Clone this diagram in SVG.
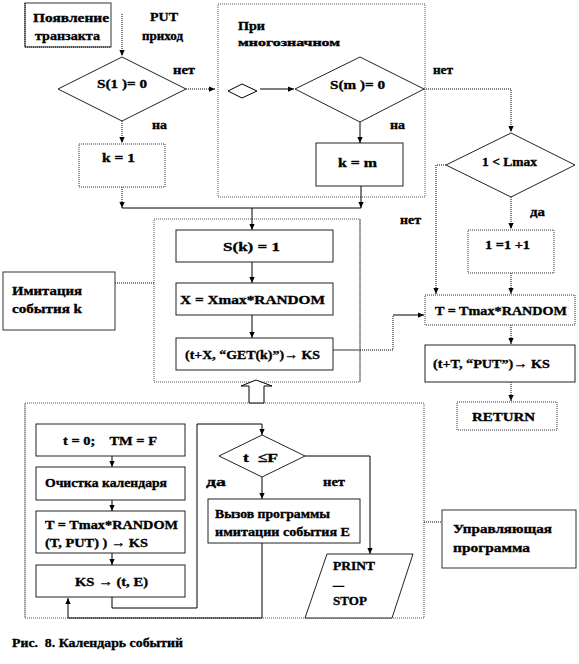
<svg xmlns="http://www.w3.org/2000/svg" width="579" height="664" viewBox="0 0 579 664" font-family="'Liberation Serif', 'Times New Roman', 'DejaVu Serif', serif">
<defs>
<marker id="ah" viewBox="0 0 8 8" refX="8" refY="4" markerWidth="6" markerHeight="6" orient="auto" markerUnits="userSpaceOnUse">
<path d="M0,0.5 L8,4 L0,7.5 Z" fill="#000"/>
</marker>
<style>
text{font-family:'Liberation Serif','Times New Roman','DejaVu Serif',serif;font-weight:bold;font-size:13.5px;fill:#000;stroke:#000;stroke-width:0.35px}
.sm{font-size:10px}
.box{fill:#fff;stroke:#222;stroke-width:1}
.dbox{fill:#fff;stroke:#333;stroke-width:1;stroke-dasharray:1 1}
.cont{fill:none;stroke:#555;stroke-width:1;stroke-dasharray:1 1}
.ln{fill:none;stroke:#000;stroke-width:1}
.dl{fill:none;stroke:#000;stroke-width:1;stroke-dasharray:1 1}
.gl{fill:none;stroke:#777;stroke-width:1.5}
</style>
</defs>
<rect width="579" height="664" fill="#fff"/>

<g id="containers">
<rect class="cont" x="218" y="4" width="207" height="193"/>
<rect class="cont" x="154" y="219" width="206" height="163"/>
<line x1="360" y1="219" x2="360" y2="382" stroke="#777" stroke-width="1"/>
<rect class="cont" x="25" y="403" width="399" height="215"/>
<line x1="25" y1="403" x2="25" y2="618" stroke="#999" stroke-width="1"/>
</g>

<g id="connectors">
<path class="dl" d="M122,14 V56" marker-end="url(#ah)"/>
<path class="dl" d="M186,89 H215" marker-end="url(#ah)"/>
<path class="ln" d="M260,89 H294" marker-end="url(#ah)"/>
<path class="dl" d="M122,121 V143" marker-end="url(#ah)"/>
<path class="dl" d="M122,187 V208" marker-end="url(#ah)"/>
<path class="ln" d="M122,208 H361"/>
<path class="ln" d="M360,122 V143" marker-end="url(#ah)"/>
<path class="ln" d="M361,186 V208" marker-end="url(#ah)"/>
<path class="ln" d="M252,208 V230" marker-end="url(#ah)"/>
<path class="ln" d="M252,262 V283" marker-end="url(#ah)"/>
<path class="ln" d="M252,315 V338" marker-end="url(#ah)"/>
<path class="dl" d="M424,89 H511 V132" marker-end="url(#ah)"/>
<path class="dl" d="M511,197 V229" marker-end="url(#ah)"/>
<path class="dl" d="M511,273 V294" marker-end="url(#ah)"/>
<path class="dl" d="M446,165 H436 V294" marker-end="url(#ah)"/>
<path class="gl" d="M333,350 H360"/>
<path class="dl" d="M360,350 H393 V315"/>
<path class="ln" d="M393,315 H424" marker-end="url(#ah)"/>
<path class="dl" d="M511,325 V344" marker-end="url(#ah)"/>
<path class="dl" d="M511,382 V401" marker-end="url(#ah)"/>
<path class="dl" d="M115,283 H154"/>
<path class="dl" d="M424,522 H442"/>
<path class="ln" d="M112,456 V467" marker-end="url(#ah)"/>
<path class="ln" d="M112,500 V511" marker-end="url(#ah)"/>
<path class="ln" d="M112,553 V565" marker-end="url(#ah)"/>
<path class="ln" d="M112,597 V608 H197 V424 H262 V435" marker-end="url(#ah)"/>
<path class="ln" d="M262,477 V499" marker-end="url(#ah)"/>
<path class="ln" d="M305,456 H370 V554" marker-end="url(#ah)"/>
<path class="ln" d="M262,543 V618 H68 V598" marker-end="url(#ah)"/>
<polygon points="249,403 249,386 241,386 256,380 272,386 264,386 264,403" fill="#fff" stroke="#000" stroke-width="1"/>
</g>

<g id="n-appear">
<rect x="25" y="3" width="86" height="44" fill="#fff" stroke="#333"/>
<path class="dl" d="M25,3 V47 H111"/>
<text x="33" y="22" textLength="76" lengthAdjust="spacingAndGlyphs">Появление</text>
<text x="35" y="40" textLength="65" lengthAdjust="spacingAndGlyphs">транзакта</text>
</g>
<g id="n-put">
<text x="150" y="21" textLength="28" lengthAdjust="spacingAndGlyphs">PUT</text>
<text x="142" y="40" textLength="41" lengthAdjust="spacingAndGlyphs">приход</text>
</g>
<g id="n-s1">
<polygon class="box" points="58,89 122,57 186,89 122,121"/>
<text x="97" y="88" textLength="50" lengthAdjust="spacingAndGlyphs">S(1 )= 0</text>
<text x="173" y="74" textLength="22" lengthAdjust="spacingAndGlyphs">нет</text>
<text x="152" y="129" textLength="15" lengthAdjust="spacingAndGlyphs">на</text>
</g>
<g id="n-k1">
<rect class="dbox" x="79" y="144" width="86" height="43"/>
<text x="102" y="162" textLength="33" lengthAdjust="spacingAndGlyphs">k = 1</text>
</g>
<g id="n-multi">
<text x="238" y="30" textLength="27" lengthAdjust="spacingAndGlyphs">При</text>
<text class="sm" x="238" y="46" textLength="102" lengthAdjust="spacingAndGlyphs">многозначном</text>
<polygon points="228,91 242,84 257,91 242,98" fill="#fff" stroke="#000"/>
</g>
<g id="n-sm">
<polygon class="box" points="295,89 360,57 424,89 360,122"/>
<text x="330" y="89" textLength="55" lengthAdjust="spacingAndGlyphs">S(m )= 0</text>
<text x="390" y="129" textLength="15" lengthAdjust="spacingAndGlyphs">на</text>
<text x="433" y="74" textLength="20" lengthAdjust="spacingAndGlyphs">нет</text>
</g>
<g id="n-km">
<rect class="box" x="316" y="143" width="87" height="43"/>
<text x="338" y="167" textLength="39" lengthAdjust="spacingAndGlyphs">k = m</text>
</g>
<g id="n-lmax">
<polygon class="box" points="446,165 511,133 575,165 511,197"/>
<text x="482" y="166" textLength="55" lengthAdjust="spacingAndGlyphs">1 &lt; Lmax</text>
<text x="530" y="216" textLength="15" lengthAdjust="spacingAndGlyphs">да</text>
<text x="400" y="224" textLength="21" lengthAdjust="spacingAndGlyphs">нет</text>
</g>
<g id="n-l1">
<rect class="dbox" x="468" y="230" width="86" height="43"/>
<text x="485" y="249" textLength="45" lengthAdjust="spacingAndGlyphs">1 =1 +1</text>
</g>
<g id="n-tmax">
<rect class="dbox" x="425" y="295" width="150" height="30"/>
<text x="435" y="315" textLength="132" lengthAdjust="spacingAndGlyphs">T = Tmax*RANDOM</text>
</g>
<g id="n-putks">
<rect class="box" x="425" y="345" width="150" height="37"/>
<text x="433" y="368" textLength="117" lengthAdjust="spacingAndGlyphs">(t+T, “PUT”)→ KS</text>
</g>
<g id="n-return">
<rect class="dbox" x="457" y="402" width="100" height="28"/>
<text x="472" y="421" textLength="63" lengthAdjust="spacingAndGlyphs">RETURN</text>
</g>
<g id="n-imit-label">
<rect x="3" y="272" width="112" height="58" fill="#fff" stroke="#333"/>
<text x="12" y="295" textLength="70" lengthAdjust="spacingAndGlyphs">Имитация</text>
<text x="12" y="313" textLength="70" lengthAdjust="spacingAndGlyphs">события k</text>
</g>
<g id="n-sk">
<rect class="box" x="176" y="230" width="157" height="32"/>
<text x="223" y="251" textLength="57" lengthAdjust="spacingAndGlyphs">S(k) = 1</text>
</g>
<g id="n-x">
<rect class="box" x="176" y="283" width="157" height="32"/>
<text x="180" y="304" textLength="145" lengthAdjust="spacingAndGlyphs">X = Xmax*RANDOM</text>
</g>
<g id="n-get">
<rect class="box" x="176" y="338" width="157" height="32"/>
<text x="185" y="359" textLength="135" lengthAdjust="spacingAndGlyphs">(t+X, “GET(k)”)→ KS</text>
</g>
<g id="n-t0">
<rect class="box" x="36" y="424" width="149" height="32"/>
<text x="63" y="445" textLength="94" lengthAdjust="spacingAndGlyphs" xml:space="preserve">t = 0;    TM = F</text>
</g>
<g id="n-clear">
<rect class="box" x="36" y="467" width="149" height="33"/>
<text x="45" y="487" textLength="122" lengthAdjust="spacingAndGlyphs">Очистка календаря</text>
</g>
<g id="n-tput">
<rect class="box" x="36" y="511" width="149" height="42"/>
<text x="45" y="529" textLength="133" lengthAdjust="spacingAndGlyphs">T = Tmax*RANDOM</text>
<text x="45" y="547" textLength="103" lengthAdjust="spacingAndGlyphs">(T, PUT) ) → KS</text>
</g>
<g id="n-kste">
<rect class="box" x="36" y="565" width="149" height="32"/>
<text x="75" y="586" textLength="73" lengthAdjust="spacingAndGlyphs">KS → (t, E)</text>
</g>
<g id="n-tf">
<polygon class="box" points="219,456 262,435 305,456 262,477"/>
<text x="243" y="462" textLength="35" lengthAdjust="spacingAndGlyphs" xml:space="preserve">t  ≤F</text>
<text x="206" y="486" textLength="20" lengthAdjust="spacingAndGlyphs">да</text>
<text x="323" y="486" textLength="22" lengthAdjust="spacingAndGlyphs">нет</text>
</g>
<g id="n-call">
<rect class="box" x="208" y="499" width="152" height="44"/>
<text x="215" y="518" textLength="115" lengthAdjust="spacingAndGlyphs">Вызов программы</text>
<text x="215" y="536" textLength="135" lengthAdjust="spacingAndGlyphs">имитации события E</text>
</g>
<g id="n-print">
<polygon class="box" points="327,554 413,554 392,618 305,618"/>
<text x="333" y="570" textLength="42" lengthAdjust="spacingAndGlyphs">PRINT</text>
<text x="333" y="589" textLength="11" lengthAdjust="spacingAndGlyphs">—</text>
<text x="333" y="605" textLength="34" lengthAdjust="spacingAndGlyphs">STOP</text>
</g>
<g id="n-control-label">
<rect x="442" y="510" width="134" height="58" fill="#fff" stroke="#333"/>
<text x="453" y="533" textLength="99" lengthAdjust="spacingAndGlyphs">Управляющая</text>
<text x="453" y="552" textLength="77" lengthAdjust="spacingAndGlyphs">программа</text>
</g>
<g id="caption">
<text x="12" y="647" textLength="171" lengthAdjust="spacingAndGlyphs" xml:space="preserve">Рис.  8. Календарь событий</text>
</g>
</svg>
